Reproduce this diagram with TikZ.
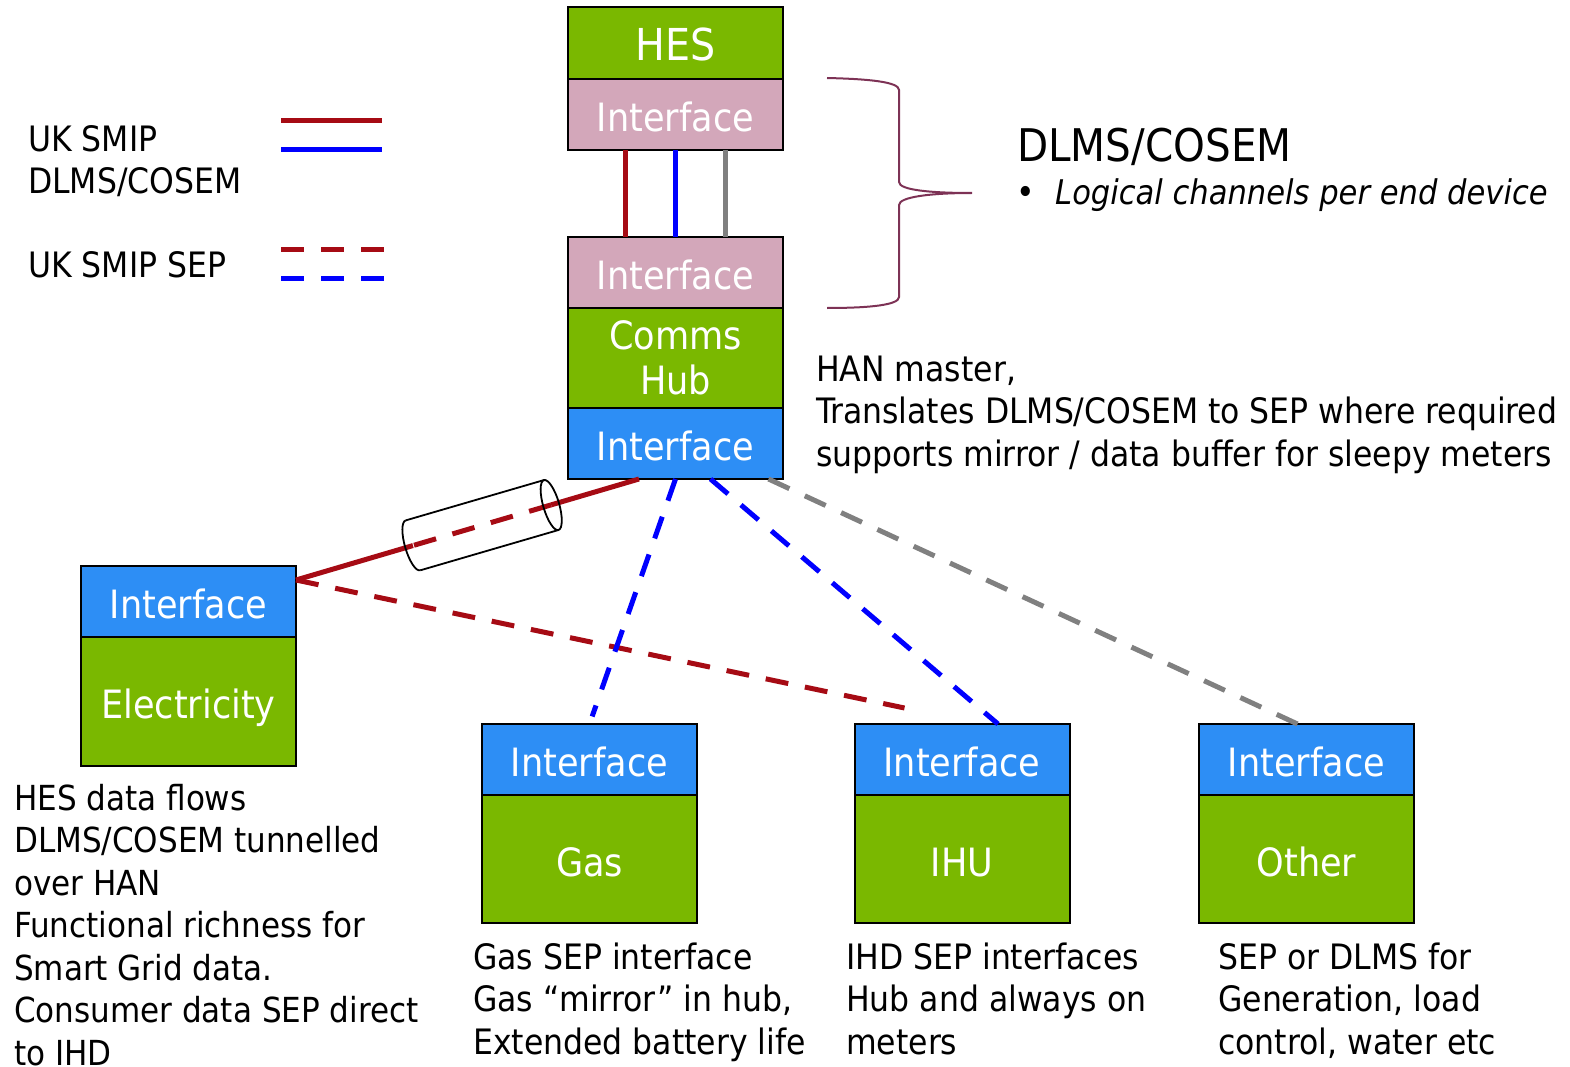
\documentclass[tikz,border=0pt]{standalone}
\usepackage{fontspec}
\setmainfont{DejaVu Sans Condensed}
\usetikzlibrary{positioning, calc}

\definecolor{boxgreen}{RGB}{122,184,0}
\definecolor{ifpink}{RGB}{211,167,186}
\definecolor{ifblue}{RGB}{45,142,245}
\definecolor{smipred}{RGB}{166,11,20}
\definecolor{smipblue}{RGB}{0,0,255}
\definecolor{othergray}{RGB}{128,128,128}
\definecolor{bracecol}{RGB}{125,50,85}

\begin{document}
\begin{tikzpicture}[x=1pt, y=-1pt,
    box/.style={draw=black, line width=2pt, fill=boxgreen, text=white, minimum width=215pt,
      minimum height=71pt, inner sep=0pt, outer sep=0pt, text height=34pt, text depth=0pt,
      font=\fontsize{39}{45}\selectfont},
    pinkif/.style={box, fill=ifpink},
    blueif/.style={box, fill=ifblue},
    note/.style={anchor=base west, align=left, inner sep=0pt, font=\fontsize{35}{42.5}\selectfont},
    smip/.style={line width=5pt},
    sep/.style={line width=5pt, dash pattern=on 23pt off 17pt}]
      \useasboundingbox (0,0) rectangle (1570,1067);

      % HES and the hub stack
      \node[box, minimum height=72pt, text height=36pt, font=\fontsize{44}{50}\selectfont] (hes) at (675.5,43) {HES};
      \node[pinkif, below=0pt of hes] (hesif) {Interface};
      \node[pinkif] (hubtop) at (675.5,272.5) {Interface};
      \node[box, below=0pt of hubtop, minimum height=100pt, text height=, text depth=, align=center] (hub) {\raisebox{-5pt}{Comms}\\\raisebox{-5pt}{Hub}};
      \node[blueif, below=0pt of hub] (hubif) {Interface};

      % End devices
      \node[blueif] (elecif) at (188.5,601.5) {Interface};
      \node[box, below=0pt of elecif, minimum height=129pt] (elec) {Electricity};
      \node[blueif] (gasif) at (589.5,759.5) {Interface};
      \node[box, below=0pt of gasif, minimum height=128pt] (gas) {Gas};
      \node[blueif] (ihuif) at (962,759.5) {Interface};
      \node[box, below=0pt of ihuif, minimum height=128pt] (ihu) {IHU};
      \node[blueif] (otherif) at (1306.5,759.5) {Interface};
      \node[box, below=0pt of otherif, minimum height=128pt] (other) {Other};

      % HES to hub channels
      \draw[smip, smipred] ($(hesif.south)+(-50,0)$) -- ($(hubtop.north)+(-50,0)$);
      \draw[smip, smipblue] (hesif.south) -- (hubtop.north);
      \draw[smip, othergray] ($(hesif.south)+(50,0)$) -- ($(hubtop.north)+(50,0)$);

      % Tunnel to the electricity meter
      \coordinate (tunA) at ($(hubif.south)+(-36.5,0)$);
      \coordinate (tunB) at ($(elecif.north east)+(0,14)$);
      \coordinate (cylR) at ($(tunA)!0.256!(tunB)$);
      \coordinate (cylL) at ($(tunA)!0.659!(tunB)$);
      \draw[smip, smipred] (tunA) -- (cylR);
      \draw[sep, smipred] (cylR) -- (cylL);
      \draw[smip, smipred] (cylL) -- (tunB);
      \begin{scope}[shift={($(cylR)!0.5!(cylL)$)}, rotate=16.26, line width=1.8pt]
        \draw (-72,-26) -- (72,-26) (-72,26) -- (72,26);
        \draw (72,0) ellipse [x radius=8, y radius=26];
        \draw (-72,-26) arc [start angle=90, end angle=270, x radius=8, y radius=-26];
      \end{scope}

      % SEP and other links
      \coordinate (redend) at ($(ihuif.north west)+(50,-16)$);
      \draw[sep, smipred] (tunB) -- (redend);
      \draw[sep, smipblue, shorten >=8pt] (hubif.south) -- (gasif.north);
      \draw[sep, smipblue] ($(hubif.south)+(35,0)$) -- ($(ihuif.north)+(36,0)$);
      \draw[sep, othergray] ($(hubif.south)+(93,0)$) -- ($(otherif.north)+(-9,0)$);

      % Legend
      \node[note] (legsmip) at (28,194) {UK SMIP\\DLMS/COSEM};
      \node[note] (legsep) at (28,277) {UK SMIP SEP};
      \draw[smip, smipred] (281,121) -- (382,121);
      \draw[smip, smipblue] (281,150) -- (382,150);
      \draw[sep, smipred] (281,250) -- (384,250);
      \draw[sep, smipblue] (281,278) -- (384,278);

      % Brace and DLMS/COSEM note
      \draw[bracecol, line width=2pt] (827,78) .. controls (870,79) and (899,82) .. (899,90) -- (899,182)
        .. controls (899,190) and (930,193) .. (972,193)
        .. controls (930,193) and (899,197) .. (899,205) -- (899,297)
        .. controls (899,305) and (870,308) .. (827,308);
      \node[note, font=\fontsize{45}{50}\selectfont] (dlms) at (1017,162) {DLMS/COSEM};
      \node[note] (bullet) at (1016,205) {\textbullet};
      \node[note, font=\fontsize{34}{42.5}\selectfont\itshape] (chan) at (1055,205) {Logical channels per end device};

      % Notes
      \node[note] (hannote) at (816,466) {HAN master,\\Translates DLMS/COSEM to SEP where required\\supports mirror / data buffer for sleepy meters};
      \node[note, font=\fontsize{34.5}{42.5}\selectfont] (elecnote) at (14,1065) {HES data flows\\DLMS/COSEM tunnelled\\over HAN\\Functional richness for\\Smart Grid data.\\Consumer data SEP direct\\to IHD};
      \node[note] (gasnote) at (473,1054) {Gas SEP interface\\Gas “mirror” in hub,\\Extended battery life};
      \node[note] (ihunote) at (846,1054) {IHD SEP interfaces\\Hub and always on\\meters};
      \node[note] (othernote) at (1218,1054) {SEP or DLMS for\\Generation, load\\control, water etc};
\end{tikzpicture}
\end{document}
